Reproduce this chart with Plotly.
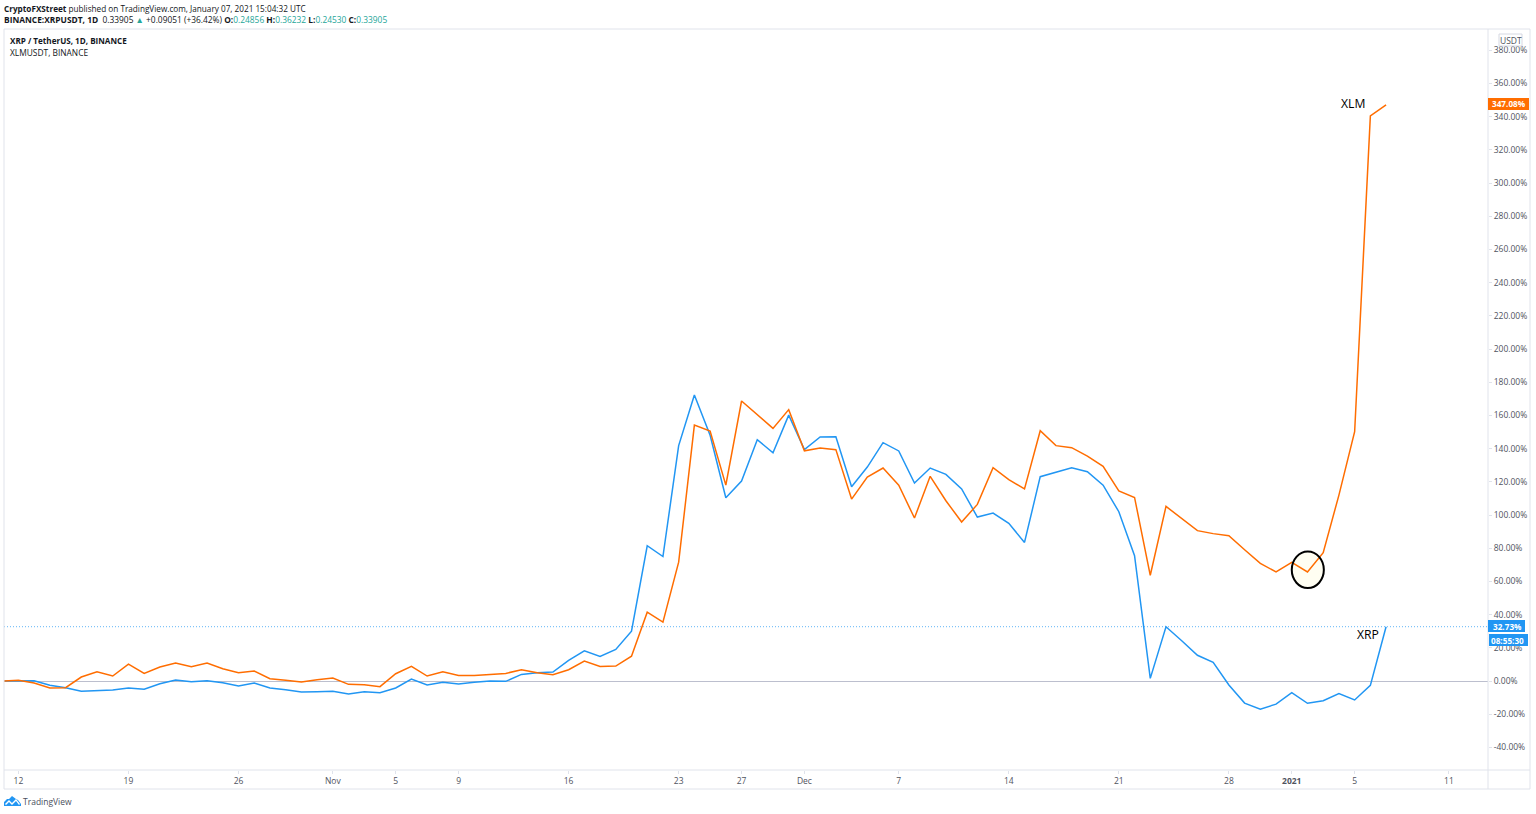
import pandas as pd
import plotly.graph_objects as go

W, H = 1536, 814
L, R, T, B = 4, 1488, 29, 770

start_date = "2020-10-11"
xrp_pct = [0, 0.2, 0.2, -2.6, -4, -6.2, -6, -5.4, -4.2, -5, -1.6, 0.6, -0.4, 0.2, -1, -3, -1.2, -4.2, -5.2, -6.6,
           -6.4, -6.2, -7.8, -6.4, -7, -4.2, 1.2, -2.4, -0.8, -1.8, -0.8, 0, -0.2, 4, 5, 5.4, 12.4, 18.2, 14.8, 19,
           30, 81.5, 75, 141.8, 172.3, 148, 110.4, 120.5, 145.4, 137.5, 160.2, 139.4, 147, 147.2, 117, 128.9, 143.6,
           138.6, 119.3, 128.3, 124.5, 115.7, 98.8, 101.2, 95, 83.5, 123.1, 125.7, 128.5, 126.1, 118, 102, 75.5, 1.6,
           32.7, 24.3, 15.5, 11.3, -2.4, -13.3, -17, -13.9, -7, -13.4, -11.9, -7.6, -11.4, -2.6, 32.73]
xlm_pct = [0, 0.4, -1.2, -4.2, -4, 2.4, 5.6, 3, 10.2, 4.6, 8.4, 10.8, 8.6, 10.8, 7.4, 5, 6, 1.4, 0.4, -0.6,
           0.8, 1.8, -2, -2.2, -3.4, 4.4, 8.8, 3, 5.6, 3.4, 3.4, 4.2, 4.6, 6.8, 5, 3.8, 6.8, 12, 8.8, 9,
           15, 41.5, 35.5, 71.6, 154.2, 150.6, 118, 168.7, 160.2, 152.2, 163.5, 138.7, 140.4, 139.4, 109.6, 122.9,
           128.3, 118, 98.2, 123.3, 108.6, 95.8, 106.4, 128.5, 121.3, 115.7, 150.8, 141.8, 140.6, 135.5, 129.3, 114.5,
           110.6, 63.7, 105.2, 97.8, 90.6, 88.8, 87.5, 79.1, 70.9, 65.7, 71.5, 65.7, 77.3, 112, 150.2, 340.4, 347.08]
dates = pd.date_range(start_date, periods=len(xrp_pct), freq="D")

tick_dates = ["2020-10-12", "2020-10-19", "2020-10-26", "2020-11-01", "2020-11-05", "2020-11-09", "2020-11-16",
              "2020-11-23", "2020-11-27", "2020-12-01", "2020-12-07", "2020-12-14", "2020-12-21", "2020-12-28",
              "2021-01-01", "2021-01-05", "2021-01-11"]
tick_text = ["12", "19", "26", "Nov", "5", "9", "16", "23", "27", "Dec", "7", "14", "21", "28", "<b>2021</b>", "5", "11"]
y_ticks = list(range(-40, 381, 20))
y_text = [f"{v:.2f}%" for v in y_ticks]

ORANGE, BLUE, FONT = "#ff6d00", "#2196f3", "Open Sans"
GRID, TXT, TEAL = "#e0e3eb", "#50535e", "#26a69a"


def px(x):
    return (x - L) / (R - L)


def py(y):
    return (B - y) / (B - T)


fig = go.Figure()
fig.add_trace(go.Scatter(x=dates, y=xrp_pct, mode="lines", line=dict(color=BLUE, width=1.5), hoverinfo="skip"))
fig.add_trace(go.Scatter(x=dates, y=xlm_pct, mode="lines", line=dict(color=ORANGE, width=1.5), hoverinfo="skip"))


def rect(x0, y0, x1, y1, line="rgba(0,0,0,0)", fill="rgba(0,0,0,0)", width=1):
    return dict(type="rect", xref="paper", yref="paper", x0=px(x0), x1=px(x1), y0=py(y0), y1=py(y1),
                line=dict(color=line, width=width), fillcolor=fill, layer="above")


def vline(x, y0, y1):
    return dict(type="line", xref="paper", yref="paper", x0=px(x), x1=px(x), y0=py(y0), y1=py(y1),
                line=dict(color=GRID, width=1), layer="above")


def path(d_points, fill):
    d = "M " + " L ".join(f"{px(a)},{py(b)}" for a, b in d_points) + " Z"
    return dict(type="path", xref="paper", yref="paper", path=d, fillcolor=fill, line=dict(width=0), layer="above")


circle = dict(type="circle", xref="x", yref="y", x0="2021-01-01 00:00", x1="2021-01-03 01:00", y0=56.0, y1=78.0)

shapes = [
    # last price line and outer frame
    dict(type="line", xref="paper", yref="y", x0=0, x1=1, y0=xrp_pct[-1], y1=xrp_pct[-1],
         line=dict(color="rgba(33,150,243,0.7)", width=1, dash="1px,2px"), layer="below"),
    rect(4, 29, 1530, 789, line=GRID),
    vline(1488, 29, 789),
    dict(type="line", xref="paper", yref="paper", x0=px(4), x1=px(1530), y0=py(770), y1=py(770),
         line=dict(color=GRID, width=1), layer="above"),
    # circle marking the dip: pale fill under the lines, black ring over them
    dict(circle, line=dict(width=0), fillcolor="#fffef2", layer="below"),
    dict(circle, line=dict(color="#000000", width=2), fillcolor="rgba(0,0,0,0)", layer="above"),
    # TradingView logo
    path([(4, 806), (4, 802), (7, 799), (9, 799), (12, 796), (16, 799), (18, 800), (21, 804), (21, 806)], BLUE),
    path([(5, 804), (9, 800), (12, 803), (16, 799), (20, 804), (19, 805), (16, 801), (12, 805), (9, 802), (6, 805)], "#ffffff"),
    # boxes behind the axis tags
    rect(1488, 98, 1529, 110, fill=ORANGE),
    rect(1488, 620, 1525, 632, fill=BLUE),
    rect(1489, 634, 1528, 646, fill=BLUE),
    rect(1499, 34, 1522, 46, line="#d6d9e2", fill="#ffffff"),
]


def note(x, y, text, size=8.5, color="#131722", anchor="left", bold=False):
    return dict(xref="paper", yref="paper", x=px(x), y=py(y), text=f"<b>{text}</b>" if bold else text,
                showarrow=False, xanchor=anchor, yanchor="middle",
                font=dict(family=FONT, size=size, color=color), align=anchor)


def c(value):
    return f"<span style='color:{TEAL}'>{value}</span>"


annotations = [
    note(2, 8, "<b>CryptoFXStreet</b> published on TradingView.com, January 07, 2021 15:04:32 UTC", size=8.2),
    note(2, 20, "<b>BINANCE:XRPUSDT, 1D</b>  0.33905 " + c("▲") + " +0.09051 (+36.42%) <b>O:</b>" + c("0.24856")
         + " <b>H:</b>" + c("0.36232") + " <b>L:</b>" + c("0.24530") + " <b>C:</b>" + c("0.33905"), size=8.4),
    note(8, 40.5, "XRP / TetherUS, 1D, BINANCE", size=8.1, bold=True),
    note(8, 52.5, "XLMUSDT, BINANCE", size=8.4),
    note(1339, 103, "XLM", size=12.2, color="#000000"),
    note(1355, 634, "XRP", size=12.2, color="#000000"),
    note(1509, 104, "347.08%", color="#ffffff", anchor="center", bold=True, size=8.2),
    note(1507, 626, "32.73%", color="#ffffff", anchor="center", bold=True, size=8.2),
    note(1508, 640, "08:55:30", color="#ffffff", anchor="center", bold=True, size=8.2),
    note(1510.5, 40, "USDT", anchor="center", color=TXT),
    note(21, 801, "TradingView", size=8.5, color="#4a4e5c"),
]

fig.update_layout(
    width=W, height=H, margin=dict(l=L, r=W - R, t=T, b=H - B),
    paper_bgcolor="#ffffff", plot_bgcolor="#ffffff", showlegend=False,
    font=dict(family=FONT, size=8.5, color=TXT),
    shapes=shapes, annotations=annotations,
    xaxis=dict(type="date", range=["2020-10-11 02:00", "2021-01-13 11:36"], tickmode="array",
               tickvals=tick_dates, ticktext=tick_text, showgrid=False, zeroline=False, showline=False,
               ticks="outside", ticklen=3, tickcolor=GRID, tickfont=dict(size=8.5, color=TXT), tickangle=0),
    yaxis=dict(side="right", range=[-53.6, 392.8], tickmode="array", tickvals=y_ticks, ticktext=y_text,
               showgrid=False, zeroline=True, zerolinecolor="#bcbfce", zerolinewidth=1, showline=False,
               ticks="outside", ticklen=3, tickcolor=GRID, tickfont=dict(size=8.5, color=TXT)),
)

fig.write_html("out.html", config={"displayModeBar": False},
               post_script="document.body.style.margin='0';document.body.style.overflow='hidden';")
